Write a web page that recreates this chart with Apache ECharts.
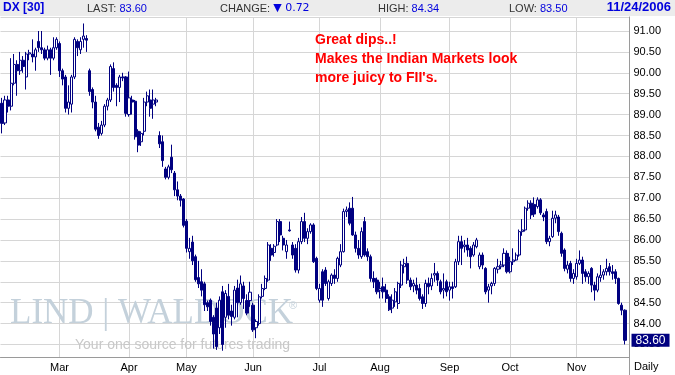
<!DOCTYPE html>
<html><head><meta charset="utf-8">
<script src="https://cdn.jsdelivr.net/npm/echarts@6/dist/echarts.min.js"></script>
<style>html,body{margin:0;padding:0;background:#fff}#c{width:675px;height:375px}</style>
</head><body><div id="c"></div>
<script>
// ---- DATA (DX daily, Feb 1 2006 - Nov 24 2006) ----
const opens = [
89.27,88.80,89.35,89.20,89.75,90.20,90.05,90.30,89.90,90.45,
90.45,90.38,90.75,90.60,90.55,90.35,90.55,90.35,90.60,90.70,
90.05,89.90,89.15,89.25,89.90,90.75,90.55,90.80,90.82,90.05,
89.60,89.30,88.70,88.55,88.75,89.20,89.35,90.10,89.70,89.65,
89.90,89.90,89.00,89.35,89.32,88.60,88.35,88.60,89.30,89.35,
89.25,89.30,88.50,88.35,87.70,87.50,87.98,87.60,87.20,87.05,
86.98,86.45,85.72,85.95,85.60,85.10,85.00,84.95,84.50,84.56,
84.15,84.37,83.90,84.76,84.15,84.65,84.30,84.15,84.85,84.50,
84.90,84.55,84.55,84.44,83.90,84.00,84.65,84.84,85.04,85.80,
85.70,85.88,86.44,86.04,85.72,86.24,85.88,85.80,85.28,85.96,
86.44,86.04,86.20,86.36,85.56,84.56,85.24,85.28,84.60,84.96,
85.16,85.08,85.40,85.72,86.68,86.76,86.76,86.12,85.80,85.60,
86.44,85.72,85.60,85.08,85.04,84.80,84.88,84.80,84.64,84.37,
84.52,84.48,84.92,85.36,85.44,85.04,84.90,84.92,84.84,84.64,
84.48,84.96,84.90,85.16,85.20,85.00,84.80,85.00,84.80,84.88,
84.88,85.48,85.96,85.84,85.88,85.80,85.64,85.84,85.36,85.64,
85.32,84.80,84.90,84.96,85.30,85.36,85.40,85.68,85.24,85.48,
85.52,85.64,86.20,86.24,86.76,86.88,86.85,86.80,86.96,86.60,
86.68,85.96,86.08,86.52,86.55,86.16,85.76,85.30,85.44,85.08,
85.12,85.44,85.52,85.24,85.12,85.32,84.92,84.80,85.10,85.16,
85.24,85.36,85.24,85.24,85.08,84.44,84.32];
const closes = [
88.79,89.35,89.20,89.75,90.20,90.05,90.30,90.15,90.45,90.48,
90.38,90.55,90.60,90.55,90.35,90.55,90.35,90.60,90.80,90.05,
89.85,89.15,89.30,89.90,90.80,90.60,90.75,90.88,90.78,89.55,
89.30,88.65,88.50,88.75,89.20,89.35,90.15,89.65,89.65,89.90,
89.88,89.03,89.40,89.30,88.47,88.27,88.55,89.30,89.45,89.15,
89.35,89.35,88.30,87.90,87.50,87.75,87.68,87.20,87.05,86.95,
86.35,85.80,85.80,85.50,85.05,84.95,84.80,84.45,84.40,84.05,
83.75,83.45,84.56,83.50,84.72,84.20,84.17,84.80,84.50,84.95,
84.60,84.25,84.75,83.85,84.05,84.64,84.84,85.08,85.88,85.64,
85.85,86.44,86.12,85.88,85.88,86.22,85.64,85.28,85.96,86.44,
86.04,86.20,86.36,85.48,84.84,84.84,84.56,84.96,85.00,85.16,
85.08,85.56,85.72,86.68,86.72,86.40,86.12,85.80,85.64,86.20,
85.64,85.60,85.08,85.00,84.76,84.84,84.76,84.60,84.33,84.56,
84.76,84.96,85.40,85.44,85.04,84.88,84.96,84.80,84.60,84.48,
84.96,84.88,85.08,85.20,85.04,84.76,84.84,84.76,84.88,84.84,
85.48,85.96,85.80,85.88,85.76,85.60,85.88,86.00,85.64,85.40,
84.76,84.88,84.96,85.32,85.36,85.40,85.68,85.24,85.48,85.52,
85.64,86.20,86.24,86.76,86.88,86.60,86.62,86.96,86.65,86.55,
85.96,86.04,86.52,86.60,86.20,85.68,85.32,85.40,85.08,85.20,
85.44,85.52,85.20,85.12,85.20,84.92,84.80,85.12,85.16,85.24,
85.32,85.24,85.20,85.08,84.48,84.32,83.60];
const lows = [
88.55,88.75,89.05,89.10,89.70,89.45,89.95,90.00,89.60,90.30,
90.25,90.05,90.50,90.45,90.30,90.30,89.95,90.30,90.55,89.90,
89.70,89.05,89.00,89.05,89.85,90.40,90.45,90.60,90.50,89.45,
89.15,88.60,88.42,88.50,88.70,89.10,89.30,89.55,89.20,89.30,
89.80,88.95,88.95,89.00,88.40,88.10,88.25,88.50,89.20,88.95,
88.90,89.20,88.20,87.75,87.45,87.45,87.60,87.05,86.95,86.80,
86.30,85.70,85.55,85.40,85.00,84.85,84.65,84.30,84.30,83.95,
83.40,83.37,83.75,83.35,83.90,84.10,83.95,84.10,84.15,84.45,
84.35,84.20,84.40,83.80,83.65,83.95,84.60,84.80,85.00,85.50,
85.60,85.85,85.95,85.75,85.55,86.20,85.55,85.22,85.20,85.90,
85.95,85.90,86.15,85.45,84.80,84.50,84.40,84.90,84.55,84.90,
84.95,85.00,85.35,85.70,86.55,86.35,86.10,85.70,85.55,85.55,
85.60,85.50,85.00,84.85,84.70,84.60,84.60,84.50,84.30,84.25,
84.40,84.35,84.85,85.20,84.95,84.80,84.75,84.70,84.55,84.35,
84.40,84.70,84.80,85.00,84.90,84.70,84.60,84.65,84.55,84.60,
84.85,85.40,85.40,85.70,85.60,85.32,85.60,85.80,85.30,85.30,
84.70,84.50,84.70,84.90,85.20,85.30,85.35,85.20,85.20,85.40,
85.50,85.60,86.10,86.20,86.70,86.50,86.55,86.75,86.60,86.45,
85.90,85.85,86.05,86.40,86.10,85.60,85.25,85.20,85.00,84.95,
85.05,85.40,84.95,85.00,84.95,84.75,84.55,84.75,85.00,85.05,
85.15,85.15,85.05,84.95,84.45,84.20,83.50];
const highs = [
89.40,89.45,89.45,90.35,90.45,90.30,90.50,90.40,90.50,90.55,
90.80,90.60,91.00,91.00,90.60,90.65,90.60,90.85,90.85,90.75,
90.10,89.95,89.70,89.95,90.85,90.80,90.85,91.18,90.90,90.10,
89.65,89.45,88.80,88.85,89.25,89.40,90.20,90.25,89.75,89.95,
90.00,89.92,90.03,89.45,89.35,88.65,88.60,89.40,89.55,89.60,
89.60,89.40,88.60,88.50,87.75,87.80,88.28,87.65,87.40,87.10,
87.00,86.50,86.05,86.10,85.65,85.50,85.30,85.00,84.55,84.60,
84.20,84.50,84.65,84.90,84.80,84.95,84.45,84.90,85.05,85.15,
85.00,84.70,85.00,84.50,84.10,84.70,84.95,85.15,85.95,85.90,
85.90,86.50,86.50,86.10,86.00,86.44,85.95,85.90,86.05,86.55,
86.65,86.28,86.40,86.40,85.60,84.95,85.30,85.35,85.05,85.20,
85.30,85.60,85.90,86.75,86.80,86.90,87.03,86.20,86.00,86.30,
86.55,85.80,85.65,85.25,85.10,85.00,85.10,84.95,84.70,84.70,
84.85,85.00,85.50,85.55,85.60,85.10,85.05,85.10,84.95,84.70,
85.05,85.10,85.20,85.45,85.25,85.05,85.20,85.05,85.00,85.00,
85.55,86.10,86.10,86.00,86.05,85.85,85.95,86.05,85.70,85.70,
85.35,84.95,85.00,85.35,85.55,85.50,85.80,85.75,85.60,85.80,
85.70,86.25,86.50,86.80,86.95,86.95,87.02,87.02,87.00,86.65,
86.75,86.10,86.70,86.70,86.60,86.20,85.80,85.50,85.50,85.30,
85.55,85.75,85.60,85.30,85.25,85.35,85.00,85.20,85.40,85.30,
85.55,85.45,85.40,85.30,85.10,84.50,84.34];
const holidays = ['2006-02-20','2006-04-14','2006-05-29','2006-07-04','2006-09-04','2006-11-23'];
const firstDay = '2006-02-01', lastDay = '2006-11-24';
const monthNames = ['Jan','Feb','Mar','Apr','May','Jun','Jul','Aug','Sep','Oct','Nov','Dec'];
const headerInfo = {symbol:'DX [30]', last:'83.60', change:'0.72', high:'84.34', low:'83.50', date:'11/24/2006'};
const lastValue = 83.60;
const noteLines = ['Great dips..!', 'Makes the Indian Markets look', 'more juicy to FII\'s.'];
const periodLabel = 'Daily';

// ---- build categories (trading days) ----
function ymd(d){return d.toISOString().slice(0,10);}
const dates = [];
for (let d = new Date(firstDay+'T00:00:00Z'); ymd(d) <= lastDay; d.setUTCDate(d.getUTCDate()+1)) {
  const wd = d.getUTCDay();
  if (wd === 0 || wd === 6) continue;
  if (holidays.indexOf(ymd(d)) >= 0) continue;
  dates.push(ymd(d));
}
const categories = dates.concat(['']);
const candles = opens.map((o,i)=>[o, closes[i], lows[i], highs[i]]);
const isMonthStart = (idx) => idx > 0 && idx < dates.length && dates[idx].slice(5,7) !== dates[idx-1].slice(5,7);

const NAVY = '#000080';
const FONT = 'Liberation Sans, Arial, sans-serif';
const chart = echarts.init(document.getElementById('c'), null, {renderer:'canvas'});
chart.setOption({
  animation:false,
  backgroundColor:'#ffffff',
  grid:{left:0.5, top:17, width:629, height:340, containLabel:false},
  xAxis:{
    type:'category', data:categories, boundaryGap:true,
    axisLine:{show:true, lineStyle:{color:'#9a9a9a', width:1}},
    axisTick:{show:false},
    axisLabel:{interval:(i)=>isMonthStart(i), formatter:(v)=> v ? monthNames[parseInt(v.slice(5,7),10)-1] : '',
      color:'#000', fontSize:11, fontFamily:FONT, margin:5},
    splitLine:{show:true, interval:(i)=>isMonthStart(i), alignWithLabel:true, lineStyle:{color:'#d6d6d6', width:1}}
  },
  yAxis:{
    type:'value', position:'right', min:83.2, max:91.335, splitNumber:16, scale:true,
    axisLine:{show:true, lineStyle:{color:'#9a9a9a', width:1}},
    axisTick:{show:false},
    axisLabel:{color:'#000', fontSize:11, fontFamily:FONT, margin:4,
      formatter:(v)=> (Math.abs(v*2 - Math.round(v*2)) < 1e-6 && v >= 83.5 && v <= 91) ? v.toFixed(2) : ''},
    splitLine:{show:true, lineStyle:{color:'#d6d6d6', width:1}}
  },
  series:[{
    type:'candlestick', data:candles, barWidth:2.6, z:5, clip:false,
    itemStyle:{color:'#ffffff', color0:NAVY, borderColor:NAVY, borderColor0:NAVY, borderWidth:1},
    markLine:{silent:true, symbol:['none','none'], lineStyle:{color:'rgba(0,0,0,0)', width:0, type:'solid'},
      data:[{yAxis:lastValue}],
      label:{show:true, position:'end', distance:2, formatter:lastValue.toFixed(2), color:'#ffffff',
        backgroundColor:NAVY, padding:[1,4,0,4], fontSize:12, fontFamily:FONT, opacity:1}}
  }],
  graphic:[
    {type:'text', z:1, left:10, top:296, style:{text:'LIND | WALDOCK', fill:'#c4d1db', font:'35px "Liberation Serif", serif'}},
    {type:'text', z:1, left:289, top:300, style:{text:'®', fill:'#c4d1db', font:'11px "Liberation Sans", sans-serif'}},
    {type:'text', z:1, left:75, top:338, style:{text:'Your one source for futures trading', fill:'#c8c8c8', font:'14px "Liberation Sans", sans-serif'}},
    {type:'rect', z:10, shape:{x:0,y:0,width:675,height:16}, style:{fill:'#ececec'}},
    {type:'text', z:11, left:3, top:2, style:{text:headerInfo.symbol, fill:'#0000dd', font:'bold 12px "Liberation Sans", sans-serif'}},
    {type:'text', z:11, left:87, top:3, style:{text:'{a|LAST: }{b|'+headerInfo.last+'}', rich:{a:{fill:'#333', font:'11px "Liberation Sans", sans-serif'}, b:{fill:'#0000dd', font:'11px "Liberation Sans", sans-serif'}}}},
    {type:'text', z:11, left:220, top:3, style:{text:'{a|CHANGE: }{b|▼ '+headerInfo.change+'}', rich:{a:{fill:'#333', font:'11px "Liberation Sans", sans-serif'}, b:{fill:'#0000dd', font:'11px "DejaVu Sans", sans-serif'}}}},
    {type:'text', z:11, left:378, top:3, style:{text:'{a|HIGH: }{b|'+headerInfo.high+'}', rich:{a:{fill:'#333', font:'11px "Liberation Sans", sans-serif'}, b:{fill:'#0000dd', font:'11px "Liberation Sans", sans-serif'}}}},
    {type:'text', z:11, left:509, top:3, style:{text:'{a|LOW: }{b|'+headerInfo.low+'}', rich:{a:{fill:'#333', font:'11px "Liberation Sans", sans-serif'}, b:{fill:'#0000dd', font:'11px "Liberation Sans", sans-serif'}}}},
    {type:'text', z:11, right:4, top:1, style:{text:headerInfo.date, fill:'#0000dd', font:'bold 13px "Liberation Sans", sans-serif'}},
    {type:'text', z:11, left:315, top:31, style:{text:noteLines.join('\n'), fill:'#ff0000', font:'bold 14px "Liberation Sans", sans-serif', lineHeight:19}},
    {type:'line', z:11, shape:{x1:629.5,y1:357,x2:629.5,y2:375}, style:{stroke:'#9a9a9a', lineWidth:1}},
    {type:'text', z:11, left:634, top:361, style:{text:periodLabel, fill:'#000', font:'11px "Liberation Sans", sans-serif'}}
  ]
});
</script></body></html>
